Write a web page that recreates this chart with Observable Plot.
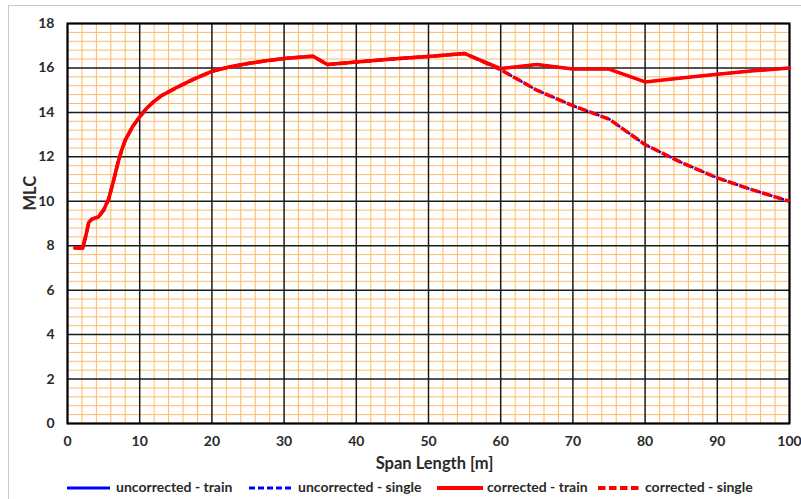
<!DOCTYPE html>
<html>
<head>
<meta charset="utf-8">
<script src="https://cdn.jsdelivr.net/npm/d3@7"></script>
<script src="https://cdn.jsdelivr.net/npm/@observablehq/plot@0.6"></script>
<style>
  html, body { margin: 0; padding: 0; background: #fff; overflow: hidden; }
  #wrap { position: relative; width: 801px; height: 499px; }
  #edgeTop { position: absolute; left: 8px; top: 5px; width: 793px; height: 1px; background: #c8c8c8; }
  #edgeLeft { position: absolute; left: 8px; top: 5px; width: 1px; height: 494px; background: #c8c8c8; }
  #chart { position: absolute; left: 0; top: 0; }
  #legend { position: absolute; left: 0; top: 476px; width: 801px; height: 23px; font-family: Lato, "Open Sans", sans-serif; font-size: 14px; font-weight: 700; color: #2a2a2a; }
  .sw { position: absolute; top: 6px; }
  .lt { position: absolute; top: 2px; white-space: nowrap; }
</style>
</head>
<body>
<div id="wrap">
  <div id="edgeTop"></div>
  <div id="edgeLeft"></div>
  <div id="chart"></div>
  <div id="legend"></div>
</div>
<script>
// ---- data ----
const spanLength = [1, 2.1, 2.5, 2.95, 3.4, 4.3, 5, 5.7, 6.4, 7, 7.5, 8, 9, 10, 11, 12, 13, 15, 17.5, 20, 22.5, 25, 27.5, 30, 34, 36, 40, 45, 50, 55, 60, 65, 70, 75, 80, 85, 90, 95, 100];
const trainMLC = [7.9, 7.9, 8.4, 9.05, 9.2, 9.3, 9.6, 10.1, 10.95, 11.75, 12.3, 12.75, 13.35, 13.8, 14.2, 14.5, 14.75, 15.1, 15.5, 15.85, 16.05, 16.2, 16.32, 16.42, 16.53, 16.15, 16.27, 16.4, 16.52, 16.65, 15.97, 16.15, 15.95, 15.95, 15.37, 15.55, 15.72, 15.87, 16.0];
const singleMLC = [7.9, 7.9, 8.4, 9.05, 9.2, 9.3, 9.6, 10.1, 10.95, 11.75, 12.3, 12.75, 13.35, 13.8, 14.2, 14.5, 14.75, 15.1, 15.5, 15.85, 16.05, 16.2, 16.32, 16.42, 16.53, 16.15, 16.27, 16.4, 16.52, 16.65, 15.92, 15.0, 14.3, 13.7, 12.55, 11.75, 11.05, 10.5, 10.0];
const seriesNames = ["uncorrected - train", "uncorrected - single", "corrected - train", "corrected - single"];
const xTicks = [0, 10, 20, 30, 40, 50, 60, 70, 80, 90, 100];
const yTicks = [0, 2, 4, 6, 8, 10, 12, 14, 16, 18];
const xLabel = "Span Length [m]";
const yLabel = "MLC";

// ---- derived tables ----
const train = spanLength.map((x, i) => ({x, y: trainMLC[i]}));
const single = spanLength.map((x, i) => ({x, y: singleMLC[i]}));
const minorX = d3.range(0, 51).map(i => i * 2).filter(v => v % 10 !== 0);
const minorY = d3.range(0, 46).filter(i => i % 5 !== 0).map(i => +(i * 0.4).toFixed(2));

const BLUE = "#0000ff", RED = "#ff0000", ORANGE = "#fdbb68";
const font = "Lato, 'Open Sans', sans-serif";

const chart = Plot.plot({
  width: 801,
  height: 476,
  marginLeft: 67,
  marginRight: 12,
  marginTop: 23,
  marginBottom: 53,
  x: {domain: [0, 100]},
  y: {domain: [0, 18]},
  style: {fontFamily: font, fontSize: "14px", fontWeight: "bold", color: "#2a2a2a", background: "transparent"},
  marks: [
    Plot.ruleX(minorX, {stroke: ORANGE, strokeWidth: 1}),
    Plot.ruleY(minorY, {stroke: ORANGE, strokeWidth: 1}),
    Plot.ruleX(xTicks, {stroke: "#1a1a1a", strokeWidth: 1.5}),
    Plot.ruleY(yTicks, {stroke: "#1a1a1a", strokeWidth: 1.5}),
    Plot.frame({stroke: "#000", strokeWidth: 2}),
    Plot.axisX({ticks: xTicks, tickSize: 0, tickPadding: 13, label: null, fontWeight: "bold", fontSize: 14}),
    Plot.axisY({ticks: yTicks, tickSize: 0, tickPadding: 13, label: null, fontWeight: "bold", fontSize: 14}),
    Plot.text([xLabel], {frameAnchor: "bottom", dx: 6, dy: 45, fontWeight: "bold", fontSize: 16.5, fill: "#2a2a2a"}),
    Plot.text([yLabel], {frameAnchor: "left", dx: -37, dy: -13, rotate: -90, fontWeight: "bold", fontSize: 16.5, fill: "#2a2a2a"}),
    // uncorrected
    Plot.line(train, {x: "x", y: "y", stroke: BLUE, strokeWidth: 2.5}),
    Plot.line(single, {x: "x", y: "y", stroke: BLUE, strokeWidth: 2.5, strokeLinecap: "butt", strokeDasharray: "9,3", strokeDashoffset: 10}),
    // corrected
    Plot.line(train, {x: "x", y: "y", stroke: RED, strokeWidth: 3.5}),
    Plot.line(single, {x: "x", y: "y", stroke: RED, strokeWidth: 3.5, strokeLinecap: "butt", strokeDasharray: "9,3"})
  ]
});
document.getElementById("chart").appendChild(chart);

// ---- legend ----
const legendItems = [
  {name: seriesNames[0], color: BLUE, dash: null, width: 3, x0: 67, x1: 110, tx: 116},
  {name: seriesNames[1], color: BLUE, dash: "6,3", width: 3, x0: 249, x1: 293, tx: 298},
  {name: seriesNames[2], color: RED, dash: null, width: 4, x0: 437, x1: 483, tx: 487},
  {name: seriesNames[3], color: RED, dash: "7.5,3.5", width: 4, x0: 598, x1: 641, tx: 645}
];
const leg = d3.select("#legend");
legendItems.forEach(it => {
  const s = leg.append("svg").attr("class", "sw")
    .style("left", it.x0 + "px").attr("width", it.x1 - it.x0).attr("height", 12);
  s.append("line").attr("x1", 0).attr("x2", it.x1 - it.x0).attr("y1", 6).attr("y2", 6)
    .attr("stroke", it.color).attr("stroke-width", it.width)
    .attr("stroke-dasharray", it.dash);
  leg.append("div").attr("class", "lt").style("left", it.tx + "px").text(it.name);
});
</script>
</body>
</html>
